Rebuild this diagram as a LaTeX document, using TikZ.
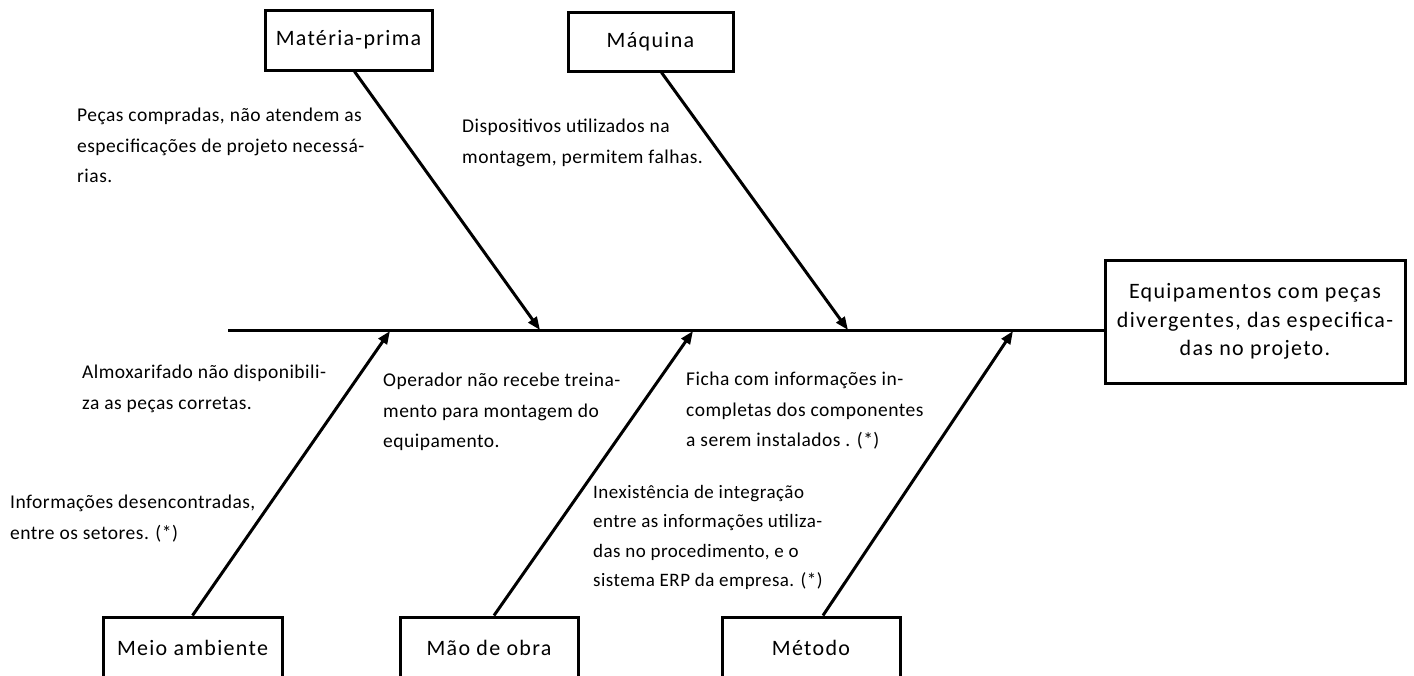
\documentclass[tikz,border=0pt]{standalone}
\usepackage{fontspec}
\setmainfont{Carlito}
\newfontfamily\boxfont[LetterSpace=6]{Carlito}
\newfontfamily\notefont[LetterSpace=2.5]{Carlito}
\usetikzlibrary{arrows.meta}
\begin{document}
\begin{tikzpicture}[x=1pt,y=-1pt,
  box/.style={draw,line width=3pt,inner sep=0pt,font=\boxfont\fontsize{22}{26}\selectfont},
  note/.style={anchor=north west,inner sep=0pt,align=left,font=\notefont\fontsize{19.5}{30.5}\selectfont},
  bone/.style={line width=3pt,-{Triangle[length=13pt,width=10pt]}}]
\useasboundingbox (0,0) rectangle (1414,675);
\clip (0,0) rectangle (1414,675);
% boxes
\node[box,minimum width=167pt,minimum height=60pt] (mp) at (348.5,40) {Matéria-prima};
\node[box,minimum width=165pt,minimum height=59pt] (maq) at (650.5,41.5) {Máquina};
\node[box,minimum width=179pt,minimum height=62pt] (meio) at (192.5,648) {Meio ambiente};
\node[box,minimum width=178pt,minimum height=62pt] (mao) at (489,648) {Mão de obra};
\node[box,minimum width=178pt,minimum height=62pt] (met) at (811,648) {Método};
\node[box,minimum width=300pt,minimum height=123pt,align=center,font=\boxfont\fontsize{22}{28.5}\selectfont] (eff) at (1255,321.5)
  {Equipamentos com peças\\divergentes, das especifica-\\das no projeto.};
% spine
\coordinate (tail) at (228,330);
\draw[line width=3pt] (tail) -- (tail -| eff.west);
% tips on spine
\coordinate (t1) at (540,330);
\coordinate (t2) at (848,330);
\coordinate (t3) at (390,331);
\coordinate (t4) at (693,331);
\coordinate (t5) at (1013,331);
\draw[bone] ([xshift=6pt]mp.south) -- (t1);
\draw[bone] ([xshift=11pt]maq.south) -- (t2);
\draw[bone] ([xshift=0pt]meio.north) -- (t3);
\draw[bone] ([xshift=5pt]mao.north) -- (t4);
\draw[bone] ([xshift=12pt]met.north) -- (t5);
% notes
\node[note] (n1) at (77,108) {Peças compradas, não atendem as\\especificações de projeto necessá-\\rias.};
\node[note] (n2) at (462,119) {Dispositivos utilizados na\\montagem, permitem falhas.};
\node[note] (n3) at (82,365) {Almoxarifado não disponibili-\\za as peças corretas.};
\node[note] (n4) at (383,373) {Operador não recebe treina-\\mento para montagem do\\equipamento.};
\node[note] (n5) at (686,372) {Ficha com informações in-\\completas dos componentes\\a serem instalados . (*)};
\node[note] (n6) at (10,495) {Informações desencontradas,\\entre os setores. (*)};
\node[note,font=\notefont\fontsize{19}{29.3}\selectfont] (n7) at (593,485) {Inexistência de integração\\entre as informações utiliza-\\das no procedimento, e o\\sistema ERP da empresa. (*)};
\end{tikzpicture}
\end{document}
